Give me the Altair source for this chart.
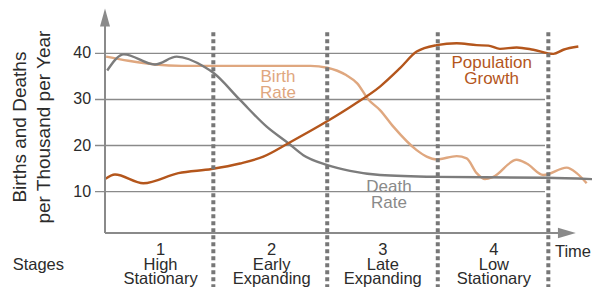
import altair as alt
import pandas as pd

FONT = "Liberation Sans"

# --- data (time in stage units, rate per thousand) ---
birth_t = [0.01, 0.21, 0.45, 0.69, 1.0, 1.85, 2.0, 2.17, 2.27, 2.37, 2.475, 2.595, 2.805, 2.895,
           2.985, 3.165, 3.255, 3.345, 3.42, 3.495, 3.705, 3.795, 3.945, 4.155, 4.245, 4.335]
birth_v = [39.3, 38.4, 37.6, 37.3, 37.3, 37.3, 36.9, 35.3, 33.5, 30.0, 27.7, 24.1, 19.0, 17.6,
           17.0, 17.7, 17.2, 14.0, 12.7, 13.2, 16.9, 16.1, 13.6, 15.2, 14.0, 11.8]

death_t = [0.02, 0.17, 0.45, 0.645, 0.9, 0.975, 1.215, 1.455, 1.65, 1.785, 1.995, 2.205,
           2.475, 2.985, 3.975, 4.39]
death_v = [36.3, 39.8, 37.6, 39.3, 37.0, 35.8, 29.9, 24.1, 20.5, 17.9, 15.8, 14.5,
           13.6, 13.2, 13.0, 12.7]

pop_t = [0.0, 0.09, 0.345, 0.66, 0.96, 1.215, 1.425, 1.65, 1.995, 2.235, 2.475, 2.655, 2.805,
         2.985, 3.165, 3.345, 3.45, 3.555, 3.705, 3.855, 4.035, 4.125, 4.26]
pop_v = [12.7, 13.7, 11.8, 14.0, 14.9, 16.1, 17.6, 20.5, 25.2, 28.8, 32.8, 36.8, 40.4,
         41.8, 42.2, 41.8, 41.7, 41.0, 41.3, 40.8, 39.9, 40.8, 41.5]

grid_values = [10, 20, 30, 40]
grid_labels = ["10", "20", "30", "40"]
stage_bounds = [0.975, 2.0, 2.995, 3.99]
stage_centers = [0.5, 1.5, 2.5, 3.5]
stage_labels = ["1\nHigh\nStationary", "2\nEarly\nExpanding",
                "3\nLate\nExpanding", "4\nLow\nStationary"]

C_BIRTH = "#DFA77F"
C_DEATH = "#7C7C7C"
C_POP = "#B4561C"
C_AXIS = "#8A8A8A"
C_TEXT = "#2b2b2b"

X = alt.Scale(domain=[0, 4.383], nice=False, zero=False)
Y = alt.Scale(domain=[1, 49], nice=False, zero=False)

one = pd.DataFrame({"k": [0]})
gdf = pd.DataFrame({"v": grid_values, "lab": grid_labels})

grid = alt.Chart(gdf).mark_rule(color=C_AXIS, strokeWidth=1.3).encode(
    x=alt.datum(-0.09, scale=X, axis=None),
    x2=alt.datum(3.96),
    y=alt.Y("v:Q", scale=Y, axis=None),
)
tick_labels = alt.Chart(gdf).mark_text(
    font=FONT, fontSize=16, color=C_TEXT, align="right", baseline="middle"
).encode(
    x=alt.datum(-0.125, scale=X, axis=None),
    y=alt.Y("v:Q", scale=Y, axis=None),
    text="lab:N",
)


def series(ts, vs, color):
    return alt.Chart(pd.DataFrame({"t": ts, "v": vs})).mark_line(
        color=color, strokeWidth=2.4, interpolate="monotone"
    ).encode(
        x=alt.X("t:Q", scale=X, axis=None),
        y=alt.Y("v:Q", scale=Y, axis=None),
    )


birth = series(birth_t, birth_v, C_BIRTH)
death = series(death_t, death_v, C_DEATH)
pop = series(pop_t, pop_v, C_POP)

dotted = alt.Chart(pd.DataFrame({"t": stage_bounds})).mark_rule(
    color="#777777", strokeWidth=4, strokeDash=[4, 3]
).encode(
    x=alt.X("t:Q", scale=X, axis=None),
    y=alt.datum(-11, scale=Y, axis=None),
    y2=alt.datum(44.7),
)

x_axis = alt.Chart(one).mark_rule(color=C_AXIS, strokeWidth=2).encode(
    x=alt.datum(0, scale=X, axis=None), x2=alt.datum(4.12),
    y=alt.datum(1, scale=Y, axis=None),
)
y_axis = alt.Chart(one).mark_rule(color=C_AXIS, strokeWidth=2).encode(
    x=alt.datum(0, scale=X, axis=None),
    y=alt.datum(1, scale=Y, axis=None), y2=alt.datum(47.5),
)
x_arrow = alt.Chart(one).mark_point(
    shape="M1,0L-1,-0.6L-1,0.6Z", filled=True, size=320, color=C_AXIS, opacity=1
).encode(x=alt.datum(4.157, scale=X, axis=None), y=alt.datum(1, scale=Y, axis=None))
y_arrow = alt.Chart(one).mark_point(
    shape="M0,-1L-0.55,1L0.55,1Z", filled=True, size=330, color=C_AXIS, opacity=1
).encode(x=alt.datum(0, scale=X, axis=None), y=alt.datum(47.8, scale=Y, axis=None))


def label(t, v, text, color, size=17, align="center", baseline="middle", lh=15.5, angle=0):
    return alt.Chart(one).mark_text(
        text=text, lineBreak="\n", font=FONT, fontSize=size, color=color,
        align=align, baseline=baseline, lineHeight=lh, angle=angle
    ).encode(x=alt.datum(t, scale=X, axis=None), y=alt.datum(v, scale=Y, axis=None))


stages = alt.Chart(pd.DataFrame({"t": stage_centers, "s": stage_labels})).mark_text(
    lineBreak="\n", font=FONT, fontSize=16.5, color=C_TEXT,
    align="center", baseline="alphabetic", lineHeight=14.5
).encode(
    x=alt.X("t:Q", scale=X, axis=None),
    y=alt.datum(-3.85, scale=Y, axis=None),
    text="s:N",
)

texts = [
    label(1.557, 34.8, "Birth\nRate", C_BIRTH, lh=15.5),
    label(2.556, 11.05, "Death\nRate", "#8A8A8A", lh=16.5),
    label(3.48, 37.9, "Population\nGrowth", C_POP, lh=15.5),
    label(4.374, -4.21, "Time", C_TEXT, size=16.5, align="right", baseline="alphabetic"),
    label(-0.6, -5.95, "Stages", C_TEXT, size=16.5),
    label(-0.765, 24.0, "Births and Deaths\nper Thousand per Year", C_TEXT,
          size=19, lh=23.5, angle=270),
]

chart = alt.layer(
    grid, tick_labels, birth, death, pop, dotted, x_axis, y_axis, x_arrow, y_arrow,
    stages, *texts
).properties(
    width=487, height=221,
    autosize=alt.AutoSizeParams(type="none"),
    padding={"left": 97, "top": 4, "right": 0, "bottom": 54},
).configure_view(stroke=None)

chart.save("out.html", embed_options={"renderer": "svg", "actions": False})
